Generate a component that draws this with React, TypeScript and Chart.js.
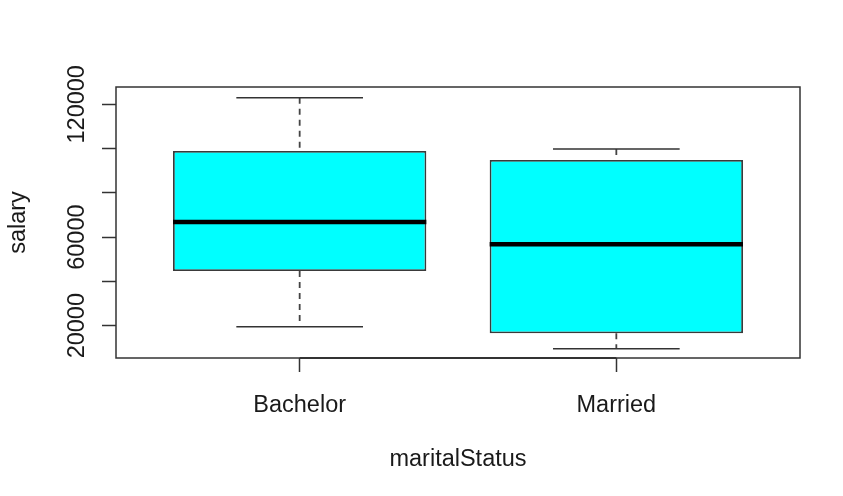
import { useEffect, useRef } from 'react';
import { Chart, registerables } from 'chart.js';

Chart.register(...registerables);

// ---- data ----
const categories = ['Bachelor', 'Married'];
const lowerWhisker = [19500, 9600];
const q1 = [44700, 16600];
const median = [66800, 56800];
const q3 = [98900, 94800];
const upperWhisker = [122900, 99800];
const yTickValues = [20000, 40000, 60000, 80000, 100000, 120000];
const yTickLabels = ['20000', '', '60000', '', '', '120000'];
const xTitle = 'maritalStatus';
const yTitle = 'salary';

const FONT = '"Liberation Sans", Arial, Helvetica, sans-serif';
const FONT_SIZE = 23.5;
const TEXT = '#1a1a1a';
const LINE = '#333333';

const boxPlugin = {
  id: 'rBoxplot',
  beforeDatasetsDraw(chart: any) {
    const { ctx, scales } = chart;
    const xs = scales.x;
    const ys = scales.y;
    ctx.save();
    ctx.strokeStyle = '#444';
    ctx.lineWidth = 1.8;
    categories.forEach((_, i) => {
      const cx = xs.getPixelForValue(i + 1);
      // dashed whiskers
      ctx.setLineDash([6, 5]);
      ctx.beginPath();
      ctx.moveTo(cx, ys.getPixelForValue(upperWhisker[i]));
      ctx.lineTo(cx, ys.getPixelForValue(q3[i]));
      ctx.moveTo(cx, ys.getPixelForValue(q1[i]));
      ctx.lineTo(cx, ys.getPixelForValue(lowerWhisker[i]));
      ctx.stroke();
      // caps
      ctx.setLineDash([]);
      ctx.strokeStyle = LINE;
      ctx.lineWidth = 1.5;
      const l = xs.getPixelForValue(i + 1 - 0.2);
      const r = xs.getPixelForValue(i + 1 + 0.2);
      ctx.beginPath();
      const yu = ys.getPixelForValue(upperWhisker[i]);
      const yl = ys.getPixelForValue(lowerWhisker[i]);
      ctx.moveTo(l, yu);
      ctx.lineTo(r, yu);
      ctx.moveTo(l, yl);
      ctx.lineTo(r, yl);
      ctx.stroke();
      ctx.strokeStyle = '#444';
      ctx.lineWidth = 1.8;
    });
    ctx.restore();
  },
  afterDatasetsDraw(chart: any) {
    const { ctx, scales } = chart;
    const xs = scales.x;
    const ys = scales.y;
    ctx.save();
    ctx.strokeStyle = '#000';
    ctx.lineWidth = 4.5;
    ctx.lineCap = 'butt';
    categories.forEach((_, i) => {
      const l = xs.getPixelForValue(i + 1 - 0.4);
      const r = xs.getPixelForValue(i + 1 + 0.4);
      const y = ys.getPixelForValue(median[i]);
      ctx.beginPath();
      ctx.moveTo(l, y);
      ctx.lineTo(r, y);
      ctx.stroke();
    });
    ctx.restore();
  },
  afterDraw(chart: any) {
    const { ctx, scales, chartArea } = chart;
    const xs = scales.x;
    const ys = scales.y;
    ctx.save();
    // frame
    ctx.strokeStyle = LINE;
    ctx.lineWidth = 1.5;
    ctx.strokeRect(chartArea.left, chartArea.top, chartArea.right - chartArea.left, chartArea.bottom - chartArea.top);
    // x axis line between first and last tick
    ctx.lineWidth = 2;
    ctx.beginPath();
    ctx.moveTo(xs.getPixelForValue(1), chartArea.bottom);
    ctx.lineTo(xs.getPixelForValue(categories.length), chartArea.bottom);
    ctx.stroke();
    // rotated y tick labels
    ctx.fillStyle = TEXT;
    ctx.font = `${FONT_SIZE}px ${FONT}`;
    ctx.textAlign = 'center';
    ctx.textBaseline = 'alphabetic';
    yTickValues.forEach((v, i) => {
      const lab = yTickLabels[i];
      if (!lab) return;
      ctx.save();
      ctx.translate(chartArea.left - 32, ys.getPixelForValue(v));
      ctx.rotate(-Math.PI / 2);
      ctx.fillText(lab, 0, 0);
      ctx.restore();
    });
    ctx.restore();
  },
};

export default function App() {
  const ref = useRef<HTMLCanvasElement>(null);
  useEffect(() => {
    document.body.style.margin = '0';
    const canvas = ref.current!;
    const chart = new Chart(canvas, {
      type: 'bar',
      data: {
        datasets: [
          {
            data: categories.map((_, i) => ({ x: i + 1, y: [q1[i], q3[i]] })) as any,
            backgroundColor: '#00ffff',
            borderColor: '#3a3a3a',
            borderWidth: 1.8,
            borderSkipped: false,
            barPercentage: 0.8,
            categoryPercentage: 1,
          },
        ],
      },
      options: {
        responsive: false,
        animation: false,
        events: [],
        layout: { padding: { top: 87, right: 43, left: 0, bottom: 0 } },
        plugins: { legend: { display: false }, tooltip: { enabled: false } },
        scales: {
          x: {
            type: 'linear',
            min: 0.42,
            max: 2.58,
            offset: false,
            afterBuildTicks: (s: any) => {
              s.ticks = categories.map((_, i) => ({ value: i + 1 }));
            },
            afterFit: (s: any) => {
              s.height = 138;
            },
            ticks: {
              autoSkip: false,
              maxRotation: 0,
              minRotation: 0,
              padding: 19,
              color: TEXT,
              font: { family: FONT, size: FONT_SIZE },
              callback: (v: any) => categories[Math.round(Number(v)) - 1] ?? '',
            },
            grid: {
              display: true,
              drawOnChartArea: false,
              drawTicks: true,
              tickLength: 14,
              tickColor: LINE,
              tickWidth: 1.5,
              offset: false,
            },
            border: { display: false },
            title: {
              display: true,
              text: xTitle,
              color: TEXT,
              font: { family: FONT, size: FONT_SIZE },
              padding: { top: 0, bottom: 22 },
            },
          },
          y: {
            type: 'linear',
            min: 5400,
            max: 127800,
            beginAtZero: false,
            afterBuildTicks: (s: any) => {
              s.ticks = yTickValues.map((v) => ({ value: v }));
            },
            afterFit: (s: any) => {
              s.width = 116;
            },
            ticks: { display: false },
            grid: {
              display: true,
              drawOnChartArea: false,
              drawTicks: true,
              tickLength: 14,
              tickColor: LINE,
              tickWidth: 1.5,
            },
            border: { display: false },
            title: {
              display: true,
              text: yTitle,
              color: TEXT,
              font: { family: FONT, size: FONT_SIZE },
              padding: { top: 4, bottom: 0 },
            },
          },
        },
      },
      plugins: [boxPlugin],
    });
    return () => chart.destroy();
  }, []);
  return (
    <div style={{ width: 843, height: 496, background: '#fff' }}>
      <canvas ref={ref} width={843} height={496} style={{ display: 'block' }} />
    </div>
  );
}
